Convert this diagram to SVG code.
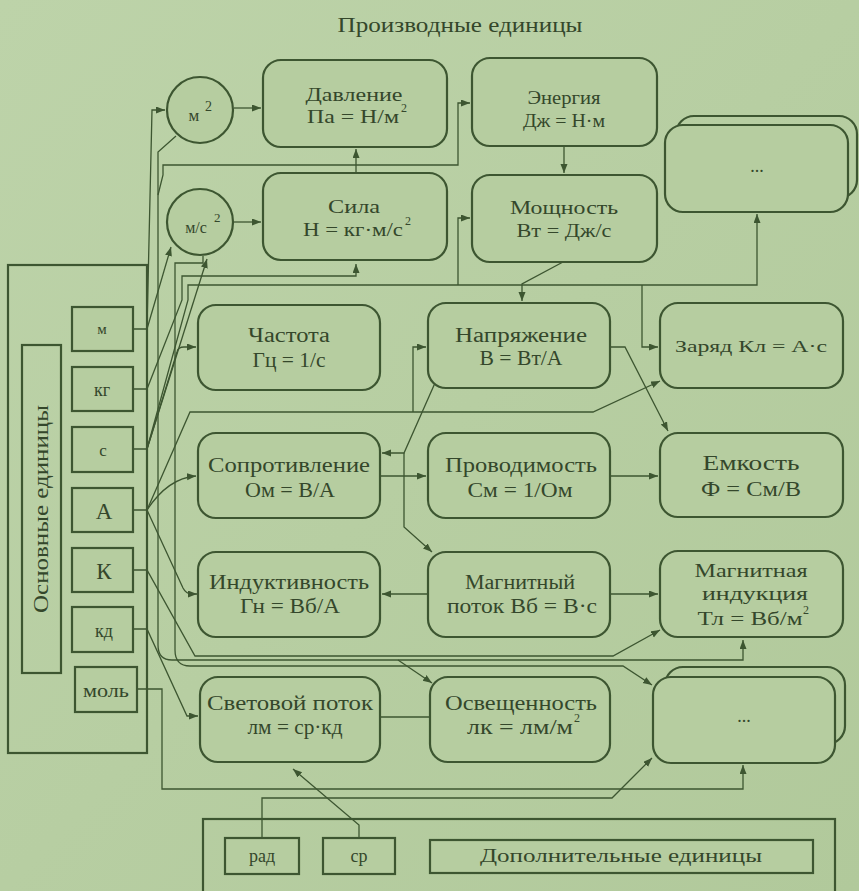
<svg xmlns="http://www.w3.org/2000/svg" width="859" height="891" viewBox="0 0 859 891">
<defs>
<marker id="ar" markerWidth="10" markerHeight="8" refX="9" refY="3.5" orient="auto" markerUnits="userSpaceOnUse">
<path d="M0,0 L9,3.5 L0,7 z" fill="#3d5631"/>
</marker>
<linearGradient id="bg" x1="0" y1="0" x2="1" y2="1">
<stop offset="0" stop-color="#bdd3a9"/>
<stop offset="1" stop-color="#b1c99b"/>
</linearGradient>
</defs>
<style>
.bx{fill:none;stroke:#3d5631;stroke-width:2.2}
.bf{fill:#b6cda0;stroke:#3d5631;stroke-width:2.2}
.ln{fill:none;stroke:#3d5631;stroke-width:1.3}
.la{fill:none;stroke:#3d5631;stroke-width:1.3;marker-end:url(#ar)}
text{font-family:"Liberation Serif","DejaVu Serif",serif;fill:#34472b;text-anchor:middle}
.s{font-size:18px}
.m{font-size:20px}
.l{font-size:22px}
.sup{font-size:12px;text-anchor:start}
</style>
<rect x="0" y="0" width="859" height="891" fill="url(#bg)"/>
<text x="460" y="32" class="m" textLength="245" lengthAdjust="spacingAndGlyphs">Производные единицы</text>

<g id="connectors">
<path class="la" d="M133,329 H147 L152,110 H165"/>
<path class="la" d="M147,329 L171,247"/>
<path class="la" d="M176,136 L158,152 L158,645 Q158,660 172,660 H743 V640"/>
<path class="la" d="M398,660 L432,683"/>
<path class="la" d="M158,195 L163,175 V165 H458 V103 H470"/>
<path class="la" d="M133,389 H147 L182,300 V276 H356 V264"/>
<path class="la" d="M133,449 H147 L188,300 V285 H757 V214"/>
<path class="la" d="M458,285 V218 H470"/>
<path class="la" d="M642,285 V347 H658"/>
<path class="la" d="M563,262 L522,284 V301"/>
<path class="la" d="M564,146 V173"/>
<path class="la" d="M356,173 V149"/>
<path class="la" d="M234,108 H261"/>
<path class="la" d="M234,222 H261"/>
<path class="la" d="M147,449 L207,259"/>
<path class="la" d="M203,256 V263 H175 V650 Q175,666 190,666 H623 L652,685"/>
<path class="la" d="M147,449 L177,352 Q178,347 184,347 H196"/>
<path class="la" d="M133,510 H147 Q168,478 196,476"/>
<path class="la" d="M147,510 L190,412 H593 L660,381"/>
<path class="la" d="M413,412 V347 H426"/>
<path class="la" d="M147,510 L183,588 Q186,594 192,594 H197"/>
<path class="la" d="M133,570 H147 L195,656 H613 L660,630"/>
<path class="la" d="M133,629 H147 L187,716 H198"/>
<path class="la" d="M137,689 H162 V789 H743 V765"/>
<path class="la" d="M262,838 V798 H612 L652,758"/>
<path class="la" d="M359,838 V825 L293,769"/>
<path class="ln" d="M380,717 H430"/>
<path class="la" d="M428,594 H382"/>
<path class="la" d="M610,594 H658"/>
<path class="la" d="M380,476 H426"/>
<path class="la" d="M610,476 H658"/>
<path class="la" d="M435,383 L404,453 H382"/>
<path class="la" d="M404,453 V527 L432,552"/>
<path class="la" d="M610,347 H625 L668,431"/>
</g>

<g id="base-units">
<rect class="bx" x="8" y="265" width="139" height="488"/>
<rect class="bx" x="22" y="345" width="39" height="328"/>
<text class="m" transform="translate(48,509) rotate(-90)" textLength="208" lengthAdjust="spacingAndGlyphs">Основные единицы</text>
</g>
<g id="u-m"><rect class="bf" x="72" y="307" width="61" height="44"/><text x="102" y="334" style="font-size:15px">м</text></g>
<g id="u-kg"><rect class="bf" x="72" y="367" width="61" height="44"/><text x="102" y="396" class="s">кг</text></g>
<g id="u-s"><rect class="bf" x="72" y="427" width="61" height="45"/><text x="103" y="456" style="font-size:17px">с</text></g>
<g id="u-a"><rect class="bf" x="72" y="488" width="61" height="44"/><text x="104" y="519" style="font-size:23px">А</text></g>
<g id="u-k"><rect class="bf" x="72" y="548" width="61" height="44"/><text x="104" y="579" style="font-size:23px">К</text></g>
<g id="u-cd"><rect class="bf" x="72" y="607" width="61" height="45"/><text x="104" y="637" class="s">кд</text></g>
<g id="u-mol"><rect class="bf" x="75" y="667" width="62" height="45"/><text x="106" y="697" class="s" textLength="46" lengthAdjust="spacingAndGlyphs">моль</text></g>

<g id="m2"><circle class="bf" cx="200" cy="110" r="33"/><text x="194" y="121" style="font-size:17px">м</text><text x="205" y="111" class="sup" style="font-size:14px">2</text></g>
<g id="ms2"><circle class="bf" cx="200" cy="222" r="33"/><text x="196" y="233" style="font-size:16px">м/с</text><text x="214" y="222" class="sup" style="font-size:13px">2</text></g>

<g id="pressure"><rect class="bf" x="263" y="60" width="184" height="87" rx="18"/>
<text x="354" y="101" class="s" textLength="97" lengthAdjust="spacingAndGlyphs">Давление</text>
<text x="353" y="123" class="s" textLength="92" lengthAdjust="spacingAndGlyphs">Па = Н/м</text><text x="401" y="112" class="sup">2</text></g>
<g id="force"><rect class="bf" x="263" y="173" width="184" height="87" rx="18"/>
<text x="354" y="213" class="s" textLength="52" lengthAdjust="spacingAndGlyphs">Сила</text>
<text x="353" y="236" class="s" textLength="100" lengthAdjust="spacingAndGlyphs">Н = кг·м/с</text><text x="405" y="225" class="sup">2</text></g>
<g id="energy"><rect class="bf" x="472" y="58" width="185" height="88" rx="18"/>
<text x="564" y="104" class="s" textLength="73" lengthAdjust="spacingAndGlyphs">Энергия</text>
<text x="564" y="127" class="s" textLength="82" lengthAdjust="spacingAndGlyphs">Дж = Н·м</text></g>
<g id="power"><rect class="bf" x="472" y="175" width="185" height="87" rx="18"/>
<text x="564" y="214" class="s" textLength="108" lengthAdjust="spacingAndGlyphs">Мощность</text>
<text x="564" y="237" class="s" textLength="95" lengthAdjust="spacingAndGlyphs">Вт = Дж/с</text></g>
<g id="more-top"><rect class="bx" x="676" y="116" width="181" height="82" rx="18"/>
<rect class="bf" x="665" y="125" width="183" height="87" rx="18"/>
<text x="757" y="172" class="s">...</text></g>

<g id="frequency"><rect class="bf" x="198" y="305" width="182" height="85" rx="18"/>
<text x="289" y="342" class="m" textLength="82" lengthAdjust="spacingAndGlyphs">Частота</text>
<text x="289" y="367" class="m" textLength="73" lengthAdjust="spacingAndGlyphs">Гц = 1/с</text></g>
<g id="voltage"><rect class="bf" x="428" y="303" width="182" height="85" rx="18"/>
<text x="521" y="342" class="m" textLength="132" lengthAdjust="spacingAndGlyphs">Напряжение</text>
<text x="521" y="365" class="m" textLength="83" lengthAdjust="spacingAndGlyphs">В = Вт/А</text></g>
<g id="charge"><rect class="bf" x="660" y="303" width="183" height="85" rx="18"/>
<text x="751" y="352" style="font-size:17px" textLength="152" lengthAdjust="spacingAndGlyphs">Заряд Кл = А·с</text></g>

<g id="resistance"><rect class="bf" x="198" y="433" width="182" height="85" rx="18"/>
<text x="289" y="472" class="l" textLength="162" lengthAdjust="spacingAndGlyphs">Сопротивление</text>
<text x="290" y="497" class="l" textLength="90" lengthAdjust="spacingAndGlyphs">Ом = В/А</text></g>
<g id="conductance"><rect class="bf" x="428" y="433" width="182" height="85" rx="18"/>
<text x="521" y="472" class="l" textLength="152" lengthAdjust="spacingAndGlyphs">Проводимость</text>
<text x="520" y="497" class="l" textLength="105" lengthAdjust="spacingAndGlyphs">См = 1/Ом</text></g>
<g id="capacitance"><rect class="bf" x="660" y="433" width="183" height="84" rx="18"/>
<text x="751" y="470" style="font-size:21px" textLength="97" lengthAdjust="spacingAndGlyphs">Емкость</text>
<text x="751" y="496" style="font-size:21px" textLength="100" lengthAdjust="spacingAndGlyphs">Ф = См/В</text></g>

<g id="inductance"><rect class="bf" x="198" y="552" width="182" height="85" rx="18"/>
<text x="289" y="589" style="font-size:21px" textLength="160" lengthAdjust="spacingAndGlyphs">Индуктивность</text>
<text x="290" y="613" class="m" textLength="100" lengthAdjust="spacingAndGlyphs">Гн = Вб/А</text></g>
<g id="flux"><rect class="bf" x="428" y="552" width="182" height="85" rx="18"/>
<text x="520" y="589" class="m" textLength="110" lengthAdjust="spacingAndGlyphs">Магнитный</text>
<text x="522" y="613" class="m" textLength="150" lengthAdjust="spacingAndGlyphs">поток Вб = В·с</text></g>
<g id="induction"><rect class="bf" x="660" y="551" width="183" height="86" rx="18"/>
<text x="751" y="577" class="s" textLength="113" lengthAdjust="spacingAndGlyphs">Магнитная</text>
<text x="755" y="600" class="s" textLength="106" lengthAdjust="spacingAndGlyphs">индукция</text>
<text x="750" y="625" class="s" textLength="105" lengthAdjust="spacingAndGlyphs">Тл = Вб/м</text><text x="803" y="614" class="sup">2</text></g>

<g id="luminous-flux"><rect class="bf" x="200" y="677" width="180" height="85" rx="18"/>
<text x="290" y="710" class="m" textLength="166" lengthAdjust="spacingAndGlyphs">Световой поток</text>
<text x="295" y="734" class="m" textLength="95" lengthAdjust="spacingAndGlyphs">лм = ср·кд</text></g>
<g id="illuminance"><rect class="bf" x="430" y="677" width="180" height="85" rx="18"/>
<text x="521" y="710" class="m" textLength="152" lengthAdjust="spacingAndGlyphs">Освещенность</text>
<text x="520" y="734" class="m" textLength="106" lengthAdjust="spacingAndGlyphs">лк = лм/м</text><text x="574" y="722" class="sup">2</text></g>
<g id="more-bottom"><rect class="bx" x="665" y="667" width="180" height="77" rx="18"/>
<rect class="bf" x="653" y="677" width="182" height="86" rx="18"/>
<text x="744" y="722" class="s">...</text></g>

<g id="supplementary">
<rect class="bx" x="203" y="819" width="632" height="90"/>
</g>
<g id="u-rad"><rect class="bf" x="225" y="838" width="74" height="36"/><text x="262" y="862" class="s">рад</text></g>
<g id="u-sr"><rect class="bf" x="323" y="838" width="72" height="36"/><text x="359" y="862" class="s">ср</text></g>
<g id="supp-label"><rect class="bf" x="430" y="840" width="383" height="33"/><text x="621" y="862" class="s" textLength="282" lengthAdjust="spacingAndGlyphs">Дополнительные единицы</text></g>
</svg>
